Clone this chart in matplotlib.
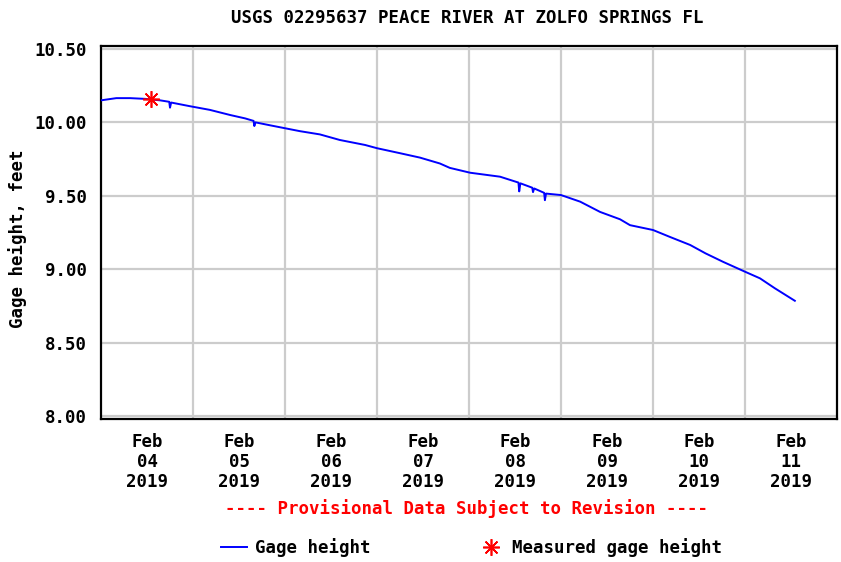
import numpy as np
import pandas as pd
import matplotlib
matplotlib.use('Agg')
import matplotlib.pyplot as plt
import matplotlib.dates as mdates

# hours after 2019-02-04 00:00 and gage height (ft)
hours = [0, 4, 7.6, 11.5, 15.4, 17.8, 18, 18.3, 23.2, 28.4, 33.7, 37.6, 39.8, 40, 40.3,
         44.1, 48, 51.9, 57.1, 62.3, 68.9, 72, 78, 83.2, 88.4, 91, 96.3, 104.1,
         108.9, 109.1, 109.4, 112.5, 112.7, 113, 115.6, 115.8, 116.1, 120, 125,
         130.2, 135.4, 138, 144, 148.4, 153.7, 157.7, 162.3, 168, 171.9, 175.8, 181]
gage = [10.15, 10.165, 10.165, 10.16, 10.15, 10.14, 10.10, 10.135, 10.11, 10.085, 10.05,
        10.027, 10.01, 9.975, 10.0, 9.98, 9.96, 9.94, 9.918, 9.88, 9.846, 9.824, 9.79,
        9.76, 9.72, 9.69, 9.657, 9.63, 9.59, 9.53, 9.585, 9.555, 9.525, 9.55, 9.52,
        9.47, 9.515, 9.505, 9.46, 9.39, 9.34, 9.30, 9.267, 9.22, 9.165, 9.108, 9.05,
        8.983, 8.938, 8.87, 8.785]

meas_hours = [13.0]
meas_gage = [10.16]

day_labels = ['Feb\n04\n2019', 'Feb\n05\n2019', 'Feb\n06\n2019', 'Feb\n07\n2019',
              'Feb\n08\n2019', 'Feb\n09\n2019', 'Feb\n10\n2019', 'Feb\n11\n2019']
y_ticks = [8.0, 8.5, 9.0, 9.5, 10.0, 10.5]

start = pd.Timestamp('2019-02-04 00:00')
t = [start + pd.Timedelta(hours=h) for h in hours]
tm = [start + pd.Timedelta(hours=h) for h in meas_hours]

font = ['DejaVu Sans Mono']
plt.rcParams['font.family'] = font
plt.rcParams['font.weight'] = 'bold'
fs = 12.5

fig = plt.figure(figsize=(8.41, 5.62), dpi=100)
ax = fig.add_axes([101 / 841, 1 - 419 / 562, 736 / 841, 373 / 562])

line, = ax.plot(t, gage, color='#0000ff', lw=1.4, label='Gage height', zorder=3)
pt, = ax.plot(tm, meas_gage, ls='none', marker=(8, 2, 0), ms=12, mew=1.2,
              color='#ff0000', label='Measured gage height', zorder=4)

ax.set_xlim(start, start + pd.Timedelta(days=8))
ax.set_ylim(7.98, 10.52)

major = [start + pd.Timedelta(days=d) for d in range(1, 8)]
minor = [start + pd.Timedelta(hours=12 + 24 * d) for d in range(8)]
ax.set_xticks(major)
ax.set_xticklabels([''] * len(major))
ax.set_xticks(minor, minor=True)
ax.set_xticklabels(day_labels, minor=True, fontsize=fs, fontweight='bold',
                   linespacing=1.15)
ax.tick_params(axis='x', which='both', length=0, pad=10)

ax.set_yticks(y_ticks)
ax.set_yticklabels([f'{v:.2f}' for v in y_ticks], fontsize=fs, fontweight='bold')
ax.tick_params(axis='y', length=0, pad=10)

ax.grid(True, which='major', color='#cccccc', lw=1.6)
ax.set_axisbelow(True)
for s in ax.spines.values():
    s.set_linewidth(1.6)
    s.set_color('black')

fig.text(0.556, 0.968, 'USGS 02295637 PEACE RIVER AT ZOLFO SPRINGS FL',
         ha='center', va='center', fontsize=fs, fontweight='bold')
fig.text(0.021, 0.575, 'Gage height, feet', rotation=90, ha='center', va='center',
         fontsize=fs, fontweight='bold')
fig.text(0.555, 0.096, '---- Provisional Data Subject to Revision ----',
         ha='center', va='center', fontsize=fs, fontweight='bold', color='#ff0000')

fig.legend(handles=[line, pt], loc='center', bbox_to_anchor=(0.561, 0.025), ncol=2,
           frameon=False, prop={'size': fs, 'weight': 'bold'}, handlelength=1.5,
           handletextpad=0.46, columnspacing=6.2, borderpad=0, borderaxespad=0)

fig.savefig('out.png', dpi=100)
